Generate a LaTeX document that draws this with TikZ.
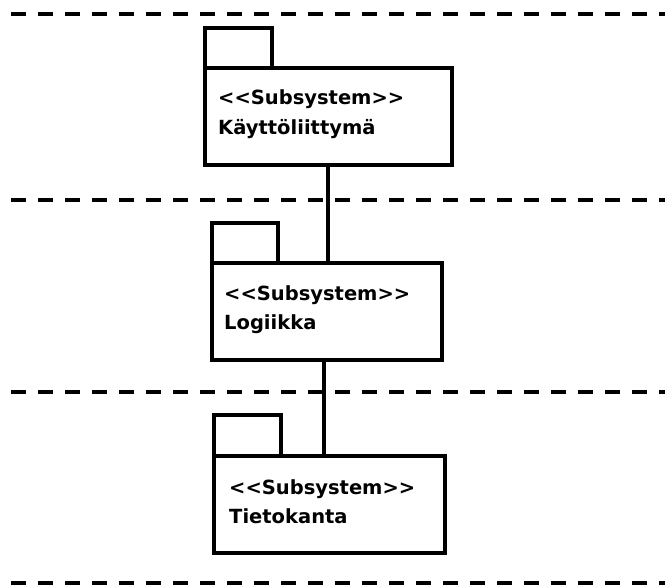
\documentclass[tikz,border=0pt]{standalone}
\usepackage{fontspec}
\setmainfont{DejaVu Sans}
\newcommand{\stereo}[1]{<\kern0pt<#1>\kern0pt>}
\begin{document}
\begin{tikzpicture}[x=1pt,y=-1pt,
  layerline/.style={line width=4pt, dash pattern=on 15pt off 12pt},
  pkgline/.style={draw=black, line width=3.5pt},
  pkglabel/.style={anchor=base west, inner sep=0pt, font=\bfseries\fontsize{19.5}{23}\selectfont},
  link/.style={line width=3.5pt}]
  \useasboundingbox (0,0) rectangle (665,588);
  % layer separators
  \draw[layerline] (11,14) -- (665,14);
  \draw[layerline] (11,200) -- (665,200);
  \draw[layerline] (11,392) -- (665,392);
  \draw[layerline] (11,583) -- (665,583);
  % package: Käyttöliittymä
  \draw[pkgline] (205,68) rectangle (272,28);
  \draw[pkgline, fill=white] (205,68) rectangle (452,165);
  \coordinate (ui) at (328,165);
  \node[pkglabel] at (218,105) {\stereo{Subsystem}};
  \node[pkglabel] at (218,135) {Käyttöliittymä};
  % package: Logiikka
  \draw[pkgline] (212,263) rectangle (278,223);
  \draw[pkgline, fill=white] (212,263) rectangle (442,360);
  \coordinate (logicTop) at (328,263);
  \coordinate (logicBot) at (324,360);
  \node[pkglabel] at (224,301) {\stereo{Subsystem}};
  \node[pkglabel] at (224,330) {Logiikka};
  % package: Tietokanta
  \draw[pkgline] (214,456) rectangle (281,415);
  \draw[pkgline, fill=white] (214,456) rectangle (445,553);
  \coordinate (db) at (324,456);
  \node[pkglabel] at (229,494) {\stereo{Subsystem}};
  \node[pkglabel] at (229,523) {Tietokanta};
  % dependencies
  \draw[link] (ui) -- (logicTop);
  \draw[link] (logicBot) -- (db);
\end{tikzpicture}
\end{document}
